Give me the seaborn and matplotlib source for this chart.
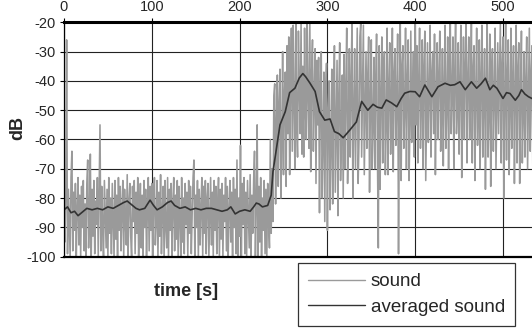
import numpy as np
import pandas as pd
import matplotlib
matplotlib.use("Agg")
import matplotlib.pyplot as plt
import seaborn as sns

# ---- data ----
x_ticks = [0, 100, 200, 300, 400, 500]
y_ticks = [-100, -90, -80, -70, -60, -50, -40, -30, -20]
series_names = ["sound", "averaged sound"]

# raw sound level, one reading per second starting at t = 0 (20 per row)
sound_step = 1
sound_db = [
    -74, -95, -80, -26, -99, -77, -88, -100, -73, -64, -98, -78, -91, -75, -100, -84, -73, -96, -79, -100,
    -76, -90, -74, -98, -82, -100, -75, -67, -97, -86, -65, -100, -77, -93, -74, -99, -81, -89, -73, -100,
    -78, -55, -98, -76, -90, -100, -74, -85, -97, -77, -100, -73, -92, -80, -99, -75, -87, -100, -74, -94,
    -79, -100, -73, -91, -76, -98, -84, -74, -100, -77, -89, -96, -72, -100, -81, -75, -93, -100, -76, -88,
    -74, -99, -78, -92, -73, -100, -86, -75, -97, -79, -100, -74, -90, -77, -100, -83, -73, -98, -76, -91,
    -75, -100, -80, -73, -96, -88, -74, -100, -78, -93, -72, -99, -84, -76, -100, -74, -90, -97, -73, -100,
    -77, -91, -75, -100, -82, -73, -98, -79, -94, -74, -100, -76, -87, -100, -73, -95, -80, -99, -75, -89,
    -78, -100, -74, -92, -76, -99, -85, -73, -67, -100, -79, -90, -74, -100, -77, -96, -83, -73, -100, -76,
    -92, -74, -99, -80, -75, -100, -87, -73, -96, -78, -100, -74, -91, -76, -99, -82, -73, -100, -77, -94,
    -75, -100, -79, -88, -73, -98, -76, -100, -84, -74, -95, -78, -100, -73, -90, -77, -99, -67, -100, -80,
    -93, -62, -100, -75, -89, -73, -99, -78, -100, -74, -86, -97, -72, -100, -79, -92, -74, -64, -100, -83,
    -55, -100, -76, -95, -73, -100, -80, -91, -74, -99, -77, -100, -75, -88, -97, -60, -92, -70, -88, -45,
    -41, -82, -55, -38, -76, -48, -36, -80, -62, -30, -72, -45, -37, -76, -28, -58, -25, -72, -40, -22,
    -64, -21, -48, -70, -20, -55, -66, -23, -42, -58, -20, -65, -35, -66, -22, -50, -60, -20, -44, -63,
    -20, -71, -38, -26, -64, -45, -29, -75, -33, -55, -32, -85, -42, -30, -80, -60, -37, -88, -45, -34,
    -91, -50, -40, -84, -62, -36, -82, -48, -28, -78, -55, -33, -86, -45, -27, -74, -58, -38, -80, -31,
    -70, -42, -22, -75, -56, -29, -66, -40, -20, -80, -52, -29, -70, -45, -22, -75, -60, -25, -20, -66,
    -44, -21, -72, -50, -30, -63, -38, -25, -78, -48, -26, -70, -55, -32, -70, -40, -24, -66, -97, -28,
    -77, -45, -25, -68, -35, -30, -72, -55, -22, -72, -42, -27, -65, -50, -22, -71, -38, -29, -62, -46,
    -24, -99, -48, -20, -74, -35, -28, -63, -50, -22, -70, -40, -26, -74, -55, -23, -61, -44, -30, -66,
    -20, -55, -28, -68, -40, -22, -63, -48, -26, -70, -35, -23, -74, -50, -27, -61, -44, -21, -66, -38,
    -30, -58, -24, -72, -45, -27, -60, -39, -23, -64, -52, -29, -69, -42, -21, -63, -48, -25, -70, -36,
    -20, -58, -44, -25, -70, -38, -20, -58, -50, -27, -65, -41, -21, -73, -46, -25, -60, -35, -20, -68,
    -40, -25, -60, -47, -20, -68, -36, -28, -74, -44, -22, -62, -50, -26, -70, -39, -21, -66, -45, -29,
    -77, -42, -20, -66, -50, -24, -76, -38, -29, -64, -45, -22, -70, -48, -27, -58, -40, -20, -68, -35,
    -25, -80, -46, -20, -67, -38, -26, -72, -50, -22, -63, -41, -28, -75, -45, -21, -68, -36, -27, -75,
    -44, -23, -68, -52, -30, -66, -40, -25, -70, -46, -22, -64, -38, -28, -72, -47, -24, -60, -36, -26,
]

# averaged sound: (time [s], dB)
averaged = [
    (0, -84), (4, -83), (8, -85), (12, -84.5), (16, -86), (20, -85),
    (26, -83.5), (32, -84), (38, -83.5), (44, -84), (50, -83), (56, -83.5),
    (62, -82.5), (68, -81.5), (72, -81), (76, -82), (82, -83.5), (86, -84),
    (92, -83.5), (98, -80.7), (102, -82.5), (106, -84), (112, -83), (118, -81.5),
    (122, -81), (126, -82.5), (132, -83.5), (138, -83), (144, -84), (150, -83.5),
    (156, -84), (162, -83.5), (168, -83.5), (174, -84), (180, -84.5), (186, -84),
    (190, -83), (195, -85.4), (200, -84.5), (206, -84), (212, -84.5), (216, -83),
    (219, -81.7), (222, -82), (226, -83), (232, -82.5), (236, -79), (238, -71),
    (242, -63), (246, -55), (252, -50.5), (257, -44), (263, -42.5), (268, -39),
    (272, -37.5), (275, -38.5), (280, -40.7), (286, -43.6), (291, -50.5), (297, -53.4),
    (303, -53), (308, -57.3), (313, -58), (318, -59.4), (322, -58), (326, -56.6),
    (333, -54), (339, -47), (346, -50), (352, -48), (357, -49), (362, -49.3),
    (367, -46.5), (373, -47.5), (379, -48.8), (384, -46), (388, -44.2), (394, -43.6),
    (400, -43.7), (405, -45.4), (411, -41.4), (419, -45.4), (426, -42), (434, -40.8),
    (440, -41.5), (445, -41.3), (451, -40.3), (457, -43), (464, -40.3), (470, -42.5),
    (475, -41), (480, -39.1), (485, -43), (489, -41.5), (493, -42.5), (500, -46),
    (504, -44), (508, -44.3), (514, -46.6), (518, -45), (521, -43), (525, -44.5),
    (529, -45.4), (533, -46),
]

# ---- build tables ----
sound_df = pd.DataFrame({
    "time": np.arange(len(sound_db)) * sound_step,
    "dB": sound_db,
})
avg_df = pd.DataFrame(averaged, columns=["time", "dB"])

# ---- style ----
sns.set_style("white")
plt.rcParams["font.family"] = ["Liberation Sans", "DejaVu Sans"]
plt.rcParams["axes.unicode_minus"] = False

W, H = 532, 333
fig = plt.figure(figsize=(W / 100, H / 100), dpi=100)
left_px, top_px, bottom_px = 64, 22.3, 256.7
px_per_s = 0.878
x_max = 540
ax = fig.add_axes([left_px / W, 1 - bottom_px / H,
                   x_max * px_per_s / W, (bottom_px - top_px) / H])

sns.lineplot(data=sound_df, x="time", y="dB", ax=ax, color="#787878",
             lw=1.15, sort=False, errorbar=None, label=series_names[0])
sns.lineplot(data=avg_df, x="time", y="dB", ax=ax, color="#111111",
             lw=1.2, sort=False, errorbar=None, label=series_names[1])

ax.set_xlim(0, x_max)
ax.set_ylim(-100, -20)
ax.set_xticks(x_ticks)
ax.set_yticks(y_ticks)
ax.xaxis.tick_top()
ax.set_xlabel("")
ax.set_ylabel("")
ax.grid(True, color="#222222", lw=0.8)
ax.set_axisbelow(True)
ax.tick_params(axis="both", labelsize=10.5, length=3, width=0.8,
               color="black", pad=3)
ax.tick_params(axis="x", top=True, bottom=False)
ax.tick_params(axis="y", left=True)
for side, lw in [("top", 2.2), ("bottom", 1.6), ("left", 0.9)]:
    ax.spines[side].set_visible(True)
    ax.spines[side].set_color("black")
    ax.spines[side].set_linewidth(lw)
ax.spines["right"].set_visible(False)

ax.get_legend().remove()
h, l = ax.get_legend_handles_labels()
h[0].set_color("#9a9a9a")
h[1].set_color("#333333")
leg = fig.legend(h, l, loc="upper left",
                 bbox_to_anchor=(298 / W, 1 - 263 / H), borderaxespad=0,
                 frameon=True, fancybox=False, edgecolor="black",
                 fontsize=13.5, handlelength=3.0, handletextpad=0.33,
                 labelspacing=0.45, borderpad=0.55)
leg.get_frame().set_linewidth(0.9)
for ln in leg.get_lines():
    ln.set_linewidth(1.0)

fig.text(186 / W, 1 - 292 / H, "time [s]", fontsize=13, fontweight="bold",
         ha="center", va="center")
fig.text(18 / W, 1 - 128 / H, "dB", fontsize=13, fontweight="bold",
         ha="center", va="center", rotation=90)

fig.savefig("out.png", dpi=100)
